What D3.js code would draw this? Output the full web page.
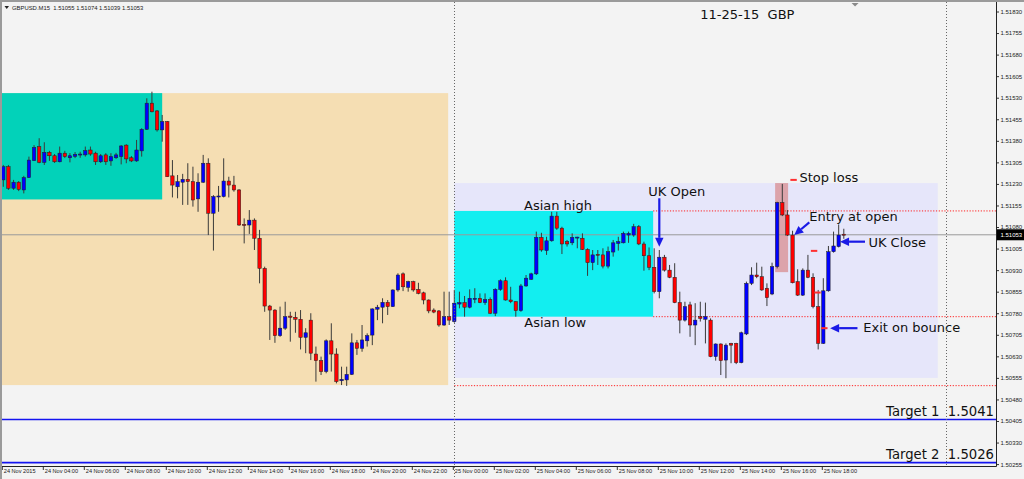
<!DOCTYPE html>
<html><head><meta charset="utf-8">
<script src="https://cdn.jsdelivr.net/npm/d3@7"></script>
<style>html,body{margin:0;padding:0;background:#f3f3f3;} svg{display:block}</style>
</head><body>
<svg id="c" width="1024" height="479"></svg>
<script>
// ---------------- DATA ----------------
const symbolHeader = "GBPUSD.M15  1.51055 1.51074 1.51039 1.51053";
const chartTitle = "11-25-15  GBP";
const firstBar = "2015-11-24T02:00";   // M15 bars
const open = [1.51244,1.51290,1.51215,1.51236,1.51209,1.51252,1.51311,1.51360,1.51305,1.51340,
1.51328,1.51307,1.51337,1.51321,1.51326,1.51332,1.51331,1.51348,1.51337,1.51307,
1.51331,1.51310,1.51321,1.51325,1.51365,1.51321,1.51310,1.51345,1.51420,1.51511,
1.51484,1.51418,1.51447,1.51258,1.51220,1.51236,1.51246,1.51238,1.51178,1.51236,
1.51302,1.51128,1.51186,1.51186,1.51240,1.51226,1.51209,1.51089,1.51087,1.51104,
1.51041,1.50936,1.50805,1.50791,1.50702,1.50728,1.50770,1.50766,1.50759,1.50696,
1.50756,1.50638,1.50615,1.50577,1.50684,1.50638,1.50545,1.50548,1.50567,1.50677,
1.50658,1.50684,1.50704,1.50794,1.50801,1.50818,1.50803,1.50861,1.50917,1.50870,
1.50890,1.50863,1.50851,1.50826,1.50791,1.50788,1.50739,1.50768,1.50751,1.50812,
1.50817,1.50801,1.50828,1.50832,1.50817,1.50828,1.50780,1.50863,1.50893,1.50826,
1.50820,1.50789,1.50875,1.50898,1.50917,1.51044,1.50998,1.51032,1.51118,1.51076,
1.51029,1.51025,1.51043,1.51041,1.51002,1.50956,1.50985,1.50983,1.50944,1.50993,
1.51023,1.51025,1.51052,1.51052,1.51081,1.51021,1.50980,1.50940,1.50855,1.50975,
1.50930,1.50905,1.50817,1.50756,1.50809,1.50739,1.50768,1.50759,1.50756,1.50629,
1.50673,1.50617,1.50675,1.50675,1.50608,1.50708,1.50884,1.50913,1.50907,1.50867,
1.50847,1.50942,1.51165,1.51122,1.51052,1.50890,1.50843,1.50930,1.50905,1.50803,
1.50675,1.50858,1.50994,1.51012,1.51055];
const high = [1.51296,1.51296,1.51244,1.51240,1.51258,1.51325,1.51365,1.51389,1.51375,1.51345,
1.51334,1.51360,1.51345,1.51337,1.51341,1.51342,1.51360,1.51360,1.51342,1.51334,
1.51337,1.51337,1.51338,1.51365,1.51368,1.51327,1.51383,1.51424,1.51528,1.51551,
1.51487,1.51470,1.51449,1.51313,1.51261,1.51265,1.51302,1.51290,1.51267,1.51331,
1.51319,1.51191,1.51223,1.51319,1.51255,1.51258,1.51212,1.51110,1.51139,1.51110,
1.51070,1.50942,1.50809,1.50794,1.50803,1.50820,1.50785,1.50785,1.50791,1.50728,
1.50780,1.50664,1.50629,1.50689,1.50745,1.50658,1.50594,1.50594,1.50710,1.50687,
1.50739,1.50710,1.50797,1.50809,1.50832,1.50826,1.50863,1.50919,1.50922,1.50893,
1.50893,1.50886,1.50855,1.50828,1.50797,1.50791,1.50855,1.50855,1.50861,1.50855,
1.50840,1.50863,1.50867,1.50849,1.50849,1.50835,1.50867,1.50898,1.50905,1.50872,
1.50822,1.50882,1.50913,1.50921,1.51064,1.51060,1.51046,1.51133,1.51133,1.51081,
1.51035,1.51058,1.51046,1.51058,1.51006,1.51000,1.51000,1.51006,1.51012,1.51035,
1.51046,1.51064,1.51064,1.51091,1.51087,1.51029,1.51009,1.51006,1.51000,1.50983,
1.50948,1.50954,1.50855,1.50820,1.50820,1.50815,1.50820,1.50817,1.50762,1.50675,
1.50675,1.50675,1.50677,1.50677,1.50716,1.50890,1.50940,1.50956,1.50942,1.50884,
1.50956,1.51168,1.51230,1.51139,1.51067,1.50933,1.50936,1.50983,1.50919,1.50861,
1.50902,1.51014,1.51064,1.51089,1.51074];
const low = [1.51220,1.51209,1.51209,1.51205,1.51197,1.51251,1.51310,1.51302,1.51296,1.51310,
1.51303,1.51305,1.51320,1.51305,1.51320,1.51321,1.51325,1.51328,1.51296,1.51303,
1.51296,1.51293,1.51317,1.51298,1.51302,1.51306,1.51307,1.51325,1.51418,1.51479,
1.51412,1.51377,1.51254,1.51183,1.51180,1.51157,1.51157,1.51151,1.51133,1.51233,
1.51052,1.50998,1.51133,1.51183,1.51183,1.51203,1.51084,1.51023,1.51056,1.51000,
1.50884,1.50785,1.50687,1.50677,1.50698,1.50722,1.50681,1.50712,1.50654,1.50641,
1.50617,1.50542,1.50565,1.50571,1.50577,1.50536,1.50530,1.50527,1.50565,1.50635,
1.50646,1.50664,1.50669,1.50756,1.50745,1.50774,1.50802,1.50855,1.50857,1.50855,
1.50855,1.50846,1.50811,1.50780,1.50780,1.50733,1.50736,1.50739,1.50747,1.50797,
1.50768,1.50797,1.50815,1.50815,1.50809,1.50777,1.50770,1.50858,1.50824,1.50815,
1.50768,1.50785,1.50872,1.50896,1.50913,1.50994,1.50983,1.51029,1.51070,1.50986,
1.51012,1.51017,1.51006,1.51000,1.50910,1.50930,1.50948,1.50936,1.50936,1.50977,
1.50998,1.51023,1.51025,1.51046,1.51017,1.50928,1.50930,1.50849,1.50832,1.50925,
1.50902,1.50815,1.50710,1.50751,1.50698,1.50669,1.50751,1.50675,1.50627,1.50615,
1.50565,1.50554,1.50606,1.50603,1.50606,1.50704,1.50878,1.50902,1.50858,1.50805,
1.50843,1.50936,1.51118,1.51049,1.50884,1.50840,1.50840,1.50902,1.50797,1.50654,
1.50673,1.50855,1.50991,1.51009,1.51039];
const close = [1.51290,1.51215,1.51236,1.51211,1.51252,1.51313,1.51357,1.51305,1.51340,1.51328,
1.51307,1.51337,1.51325,1.51328,1.51333,1.51334,1.51346,1.51334,1.51307,1.51328,
1.51307,1.51325,1.51331,1.51362,1.51317,1.51310,1.51348,1.51420,1.51511,1.51481,
1.51418,1.51447,1.51255,1.51226,1.51238,1.51246,1.51238,1.51174,1.51236,1.51302,
1.51128,1.51186,1.51188,1.51240,1.51226,1.51209,1.51087,1.51086,1.51104,1.51041,
1.50936,1.50805,1.50791,1.50702,1.50728,1.50768,1.50766,1.50759,1.50696,1.50712,
1.50641,1.50615,1.50577,1.50684,1.50638,1.50542,1.50550,1.50567,1.50677,1.50658,
1.50687,1.50702,1.50795,1.50801,1.50818,1.50803,1.50861,1.50913,1.50872,1.50890,
1.50861,1.50849,1.50826,1.50788,1.50784,1.50739,1.50768,1.50756,1.50815,1.50817,
1.50801,1.50832,1.50832,1.50817,1.50828,1.50780,1.50863,1.50893,1.50826,1.50820,
1.50789,1.50875,1.50902,1.50917,1.51044,1.51000,1.51032,1.51118,1.51076,1.51021,
1.51021,1.51044,1.51045,1.51002,1.50956,1.50983,1.50982,1.50944,1.50994,1.51025,
1.51029,1.51058,1.51058,1.51081,1.51021,1.50980,1.50940,1.50855,1.50975,1.50930,
1.50905,1.50817,1.50756,1.50803,1.50739,1.50756,1.50762,1.50768,1.50629,1.50673,
1.50615,1.50669,1.50669,1.50608,1.50712,1.50884,1.50913,1.50907,1.50861,1.50834,
1.50942,1.51165,1.51122,1.51052,1.50886,1.50843,1.50930,1.50905,1.50803,1.50675,
1.50858,1.50994,1.51014,1.51052,1.51053];

const xTickTimes = ["2015-11-24T02:00","2015-11-24T04:00","2015-11-24T06:00","2015-11-24T08:00","2015-11-24T10:00",
"2015-11-24T12:00","2015-11-24T14:00","2015-11-24T16:00","2015-11-24T18:00","2015-11-24T20:00","2015-11-24T22:00",
"2015-11-25T00:00","2015-11-25T02:00","2015-11-25T04:00","2015-11-25T06:00","2015-11-25T08:00","2015-11-25T10:00",
"2015-11-25T12:00","2015-11-25T14:00","2015-11-25T16:00","2015-11-25T18:00"];
const xTickLabels = ["24 Nov 2015","24 Nov 04:00","24 Nov 06:00","24 Nov 08:00","24 Nov 10:00","24 Nov 12:00",
"24 Nov 14:00","24 Nov 16:00","24 Nov 18:00","24 Nov 20:00","24 Nov 22:00","25 Nov 00:00","25 Nov 02:00",
"25 Nov 04:00","25 Nov 06:00","25 Nov 08:00","25 Nov 10:00","25 Nov 12:00","25 Nov 14:00","25 Nov 16:00","25 Nov 18:00"];
const yTickValues = [1.51830,1.51755,1.51680,1.51605,1.51530,1.51455,1.51380,1.51305,1.51230,1.51155,1.51080,
1.51005,1.50930,1.50855,1.50780,1.50705,1.50630,1.50555,1.50480,1.50405,1.50330,1.50255];
const currentPrice = 1.51053;
const separatorTimes = ["2015-11-25T00:00","2015-11-26T00:00"];
const targetNames = ["Target 1","Target 2"];
const targetPrices = [1.5041, 1.5026];
const boxNames  = ["wheat","asia24","range","asia25","stop"];
const boxStart  = ["2015-11-24T00:00","2015-11-24T00:00","2015-11-25T00:00","2015-11-25T00:00","2015-11-25T15:39"];
const boxEnd    = ["2015-11-24T23:42","2015-11-24T09:45","2015-11-25T23:35","2015-11-25T09:42","2015-11-25T16:17"];
const boxTop    = [1.51546, 1.51546, 1.51233, 1.51136, 1.51233];
const boxBottom = [1.50530, 1.51176, 1.50555, 1.50768, 1.50923];
const levelStart = ["2015-11-25T09:42","2015-11-25T09:42","2015-11-25T00:00"];
const levelPrice = [1.51136, 1.50768, 1.50528];
const noteText  = ["Asian high","Asian low","UK Open","Stop loss","Entry at open","UK Close","Exit on bounce"];
const noteTime  = ["2015-11-25T03:24","2015-11-25T03:25","2015-11-25T09:28","2015-11-25T16:50","2015-11-25T17:19","2015-11-25T20:12","2015-11-25T19:57"];
const notePrice = [1.51139, 1.50731, 1.51188, 1.51236, 1.51101, 1.51011, 1.50716];
const arrowFromTime  = ["2015-11-25T10:00","2015-11-25T17:19","2015-11-25T20:02","2015-11-25T19:40"];
const arrowFromPrice = [1.51180, 1.51096, 1.51029, 1.50728];
const arrowToTime    = ["2015-11-25T10:00","2015-11-25T16:35","2015-11-25T18:49","2015-11-25T18:20"];
const arrowToPrice   = [1.51011, 1.51052, 1.51029, 1.50728];
const markTime  = ["2015-11-25T16:33","2015-11-25T17:33","2015-11-25T17:43","2015-11-25T18:03"];
const markPrice = [1.51244, 1.50997, 1.50852, 1.50728];
const titleTime = "2015-11-25T12:00";
const shiftMarkerTime = "2015-11-25T19:33";

// ---------------- STYLE / LAYOUT ----------------
const boxColors = {wheat:"#f5deb3", asia24:"#02d2b9", range:"#e6e6fa", asia25:"#12eef0", stop:"#dca3aa"};
const plot = {l:2, r:996, t:2, b:466};
const T = s => new Date(s + ":00Z");
const svg = d3.select("#c");

const x = d3.scaleUtc().domain([T("2015-11-24T02:00"), T("2015-11-26T00:00")]).range([3.3, 946.3]);
const y = d3.scaleLinear().domain([1.50255, 1.51830]).range([464.1, 11.5]);

svg.append("rect").attr("width",1024).attr("height",479).attr("fill","#f3f3f3");
svg.append("defs").append("clipPath").attr("id","pc").append("rect")
  .attr("x",plot.l).attr("y",plot.t).attr("width",plot.r-plot.l).attr("height",plot.b-plot.t);
const g = svg.append("g").attr("clip-path","url(#pc)");

// boxes
const boxes = boxNames.map((n,i)=>({n, s:T(boxStart[i]), e:T(boxEnd[i]), top:boxTop[i], bot:boxBottom[i]}));
g.selectAll("rect.box").data(boxes).join("rect").attr("class","box")
  .attr("x",d=>x(d.s)).attr("width",d=>x(d.e)-x(d.s))
  .attr("y",d=>y(d.top)).attr("height",d=>y(d.bot)-y(d.top))
  .attr("fill",d=>boxColors[d.n]);

// separators
svg.selectAll("line.sep").data(separatorTimes).join("line").attr("class","sep")
  .attr("x1",d=>Math.round(x(T(d)))+0.5).attr("x2",d=>Math.round(x(T(d)))+0.5)
  .attr("y1",plot.t).attr("y2",(d,i)=>i===0?plot.b+13:plot.b)
  .attr("stroke","#666").attr("stroke-width",1).attr("stroke-dasharray","1,2");

// target lines
g.selectAll("line.tgt").data(targetPrices).join("line").attr("class","tgt")
  .attr("x1",plot.l).attr("x2",plot.r).attr("y1",d=>y(d)).attr("y2",d=>y(d))
  .attr("stroke","#1414f0").attr("stroke-width",1.6);

// current price line
g.append("line").attr("x1",plot.l).attr("x2",plot.r)
  .attr("y1",y(currentPrice)).attr("y2",y(currentPrice))
  .attr("stroke","#9a9a9a").attr("stroke-width",1);

// red dotted levels
g.selectAll("line.lvl").data(levelPrice).join("line").attr("class","lvl")
  .attr("x1",(d,i)=>x(T(levelStart[i]))).attr("x2",plot.r)
  .attr("y1",d=>y(d)).attr("y2",d=>y(d))
  .attr("stroke","#ff2020").attr("stroke-width",1).attr("stroke-dasharray","1.2,1.6");

// candles
const bars = open.map((o,i)=>({t:new Date(T(firstBar).getTime()+i*15*60000), o, h:high[i], l:low[i], c:close[i]}));
const bw = 3.4;
const cg = g.append("g");
cg.selectAll("line.wick").data(bars).join("line").attr("class","wick")
  .attr("x1",d=>x(d.t)).attr("x2",d=>x(d.t)).attr("y1",d=>y(d.h)).attr("y2",d=>y(d.l))
  .attr("stroke","#3a3a3a").attr("stroke-width",1);
cg.selectAll("rect.body").data(bars).join("rect").attr("class","body")
  .attr("x",d=>x(d.t)-bw/2).attr("width",bw)
  .attr("y",d=>y(Math.max(d.o,d.c)))
  .attr("height",d=>Math.max(1,Math.abs(y(d.o)-y(d.c))))
  .attr("fill",d=>d.c>=d.o?"#0000ff":"#ff0000")
  .attr("stroke","#202020").attr("stroke-width",0.5);

// red markers
g.selectAll("rect.mk").data(markPrice).join("rect").attr("class","mk")
  .attr("x",(d,i)=>x(T(markTime[i]))-3.2).attr("width",6.4)
  .attr("y",d=>y(d)-1).attr("height",2).attr("fill","#ff3030");

// arrows
const arrows = arrowFromTime.map((t,i)=>({x1:x(T(t)), y1:y(arrowFromPrice[i]), x2:x(T(arrowToTime[i])), y2:y(arrowToPrice[i])}));
const ag = g.append("g");
arrows.forEach(a=>{
  const ang = Math.atan2(a.y2-a.y1, a.x2-a.x1), L=9, W=4.2;
  const bx = a.x2 - L*Math.cos(ang), by = a.y2 - L*Math.sin(ang);
  ag.append("line").attr("x1",a.x1).attr("y1",a.y1).attr("x2",bx).attr("y2",by)
    .attr("stroke","#1a1ae6").attr("stroke-width",2.2);
  const p = [[a.x2,a.y2],[bx - W*Math.sin(ang), by + W*Math.cos(ang)],[bx + W*Math.sin(ang), by - W*Math.cos(ang)]];
  ag.append("path").attr("d","M"+p.map(q=>q.join(",")).join("L")+"Z").attr("fill","#1a1ae6");
});

// annotation texts
g.selectAll("text.note").data(noteText).join("text").attr("class","note")
  .attr("x",(d,i)=>x(T(noteTime[i]))).attr("y",(d,i)=>y(notePrice[i]))
  .attr("font-family","DejaVu Sans, Verdana, sans-serif").attr("font-size",13).attr("fill","#111")
  .text(d=>d);

// title
svg.append("text").attr("x",x(T(titleTime))).attr("y",19)
  .attr("font-family","DejaVu Sans, Verdana, sans-serif").attr("font-size",13).attr("fill","#111")
  .style("white-space","pre").text(chartTitle);

// target texts
svg.selectAll("text.tgtl").data(targetPrices).join("text").attr("class","tgtl")
  .attr("x",994).attr("y",d=>y(d)-3.6).attr("text-anchor","end")
  .attr("font-family","DejaVu Sans, Verdana, sans-serif").attr("font-size",13.2).attr("fill","#111")
  .style("white-space","pre").text((d,i)=>targetNames[i]+"  "+d.toFixed(4));

// shift marker
const sx = x(T(shiftMarkerTime));
svg.append("path").attr("d",`M${sx-3.5},3L${sx+3.5},3L${sx},6.5Z`).attr("fill","#8a8a8a");

// axes
const yAxis = d3.axisRight(y).tickValues(yTickValues).tickSize(3).tickPadding(1.5).tickFormat(d3.format(".5f"));
const ya = svg.append("g").attr("transform",`translate(${plot.r},0)`).call(yAxis);
ya.select(".domain").remove();
ya.selectAll("line").attr("stroke","#333");
ya.selectAll("text").attr("font-family","Liberation Sans, Arial, sans-serif").attr("font-size",6).attr("fill","#222");

const xAxis = d3.axisBottom(x).tickValues(xTickTimes.map(T)).tickSize(4)
  .tickFormat((d,i)=>xTickLabels[i]);
const xa = svg.append("g").attr("transform",`translate(0,${plot.b})`).call(xAxis);
xa.select(".domain").remove();
xa.selectAll(".tick line").attr("x1",-1.5).attr("x2",-1.5).attr("stroke","#333");
xa.selectAll(".tick text").attr("text-anchor","start").attr("x",0).attr("y",3).attr("dy","0.75em")
  .attr("font-family","Liberation Sans, Arial, sans-serif").attr("font-size",5.6).attr("fill","#222");

// frame lines
svg.append("line").attr("x1",plot.r+0.5).attr("x2",plot.r+0.5).attr("y1",plot.t).attr("y2",plot.b+0.5).attr("stroke","#222");
svg.append("line").attr("x1",plot.l).attr("x2",plot.r+0.5).attr("y1",plot.b+0.5).attr("y2",plot.b+0.5).attr("stroke","#222");
svg.append("line").attr("x1",1).attr("x2",1).attr("y1",0).attr("y2",479).attr("stroke","#9a9a9a").attr("stroke-width",2);
svg.append("line").attr("x1",0).attr("x2",1024).attr("y1",1).attr("y2",1).attr("stroke","#9a9a9a").attr("stroke-width",2);

// current price tag
const cy = y(currentPrice);
svg.append("rect").attr("x",plot.r+1).attr("y",cy-5.5).attr("width",27).attr("height",11).attr("fill","#000");
svg.append("text").attr("x",plot.r+4.5).attr("y",cy).attr("dy","0.35em")
  .attr("font-family","Liberation Sans, Arial, sans-serif").attr("font-size",6).attr("fill","#fff")
  .text(d3.format(".5f")(currentPrice));

// header
svg.append("path").attr("d","M4.5,6L9,6L6.75,9Z").attr("fill","#222");
svg.append("text").attr("x",12).attr("y",9.5)
  .attr("font-family","Liberation Sans, Arial, sans-serif").attr("font-size",5.9).attr("fill","#222")
  .style("white-space","pre").text(symbolHeader);
</script>
</body></html>
